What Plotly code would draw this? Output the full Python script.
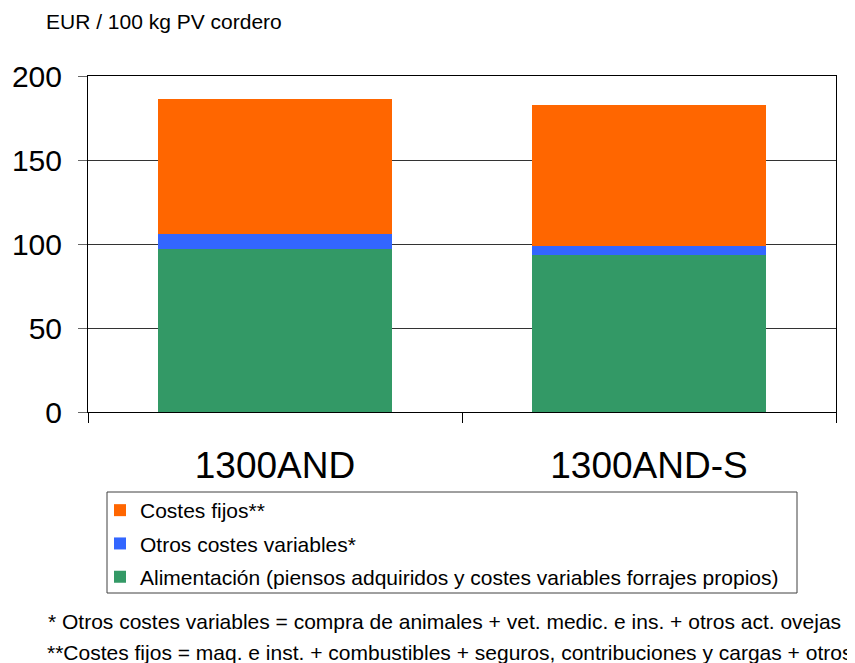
import plotly.graph_objects as go

categories = ["1300AND", "1300AND-S"]
alimentacion = [97.0, 93.5]
otros_variables = [8.9, 5.5]
costes_fijos = [80.3, 83.6]

series_names = [
    "Alimentación (piensos adquiridos y costes variables forrajes propios)",
    "Otros costes variables*",
    "Costes fijos**",
]
legend_ranks = [3, 2, 1]
colors = ["#339966", "#3366FF", "#FF6600"]
y_ticks = [0, 50, 100, 150, 200]

# page body has an 8px margin, so lay out in a shifted frame
OFF = 8
W, H = 855 - OFF, 663 - OFF
L, R, T, B = 88 - OFF, 836 - OFF, 76 - OFF, 412 - OFF  # plot area pixels
pw, ph = R - L, B - T

def px(x):
    return (x - OFF - L) / pw

def py(y):
    return (B - (y - OFF)) / ph

FONT = "Liberation Sans, Arial, sans-serif"

fig = go.Figure()
for name, vals, col, rk in zip(series_names, [alimentacion, otros_variables, costes_fijos], colors, legend_ranks):
    fig.add_trace(go.Bar(x=categories, y=vals, name=name, marker=dict(color=col, line=dict(width=0)),
                         legendrank=rk, legendgroup="g%d" % rk))

fig.update_layout(
    width=W, height=H,
    margin=dict(l=L, r=W - R, t=T, b=H - B, pad=0, autoexpand=False),
    barmode="stack",
    bargap=0.374,
    plot_bgcolor="white",
    paper_bgcolor="white",
    font=dict(family=FONT, color="black"),
    showlegend=True,
    legend=dict(
        x=px(100), y=py(490), xanchor="left", yanchor="top",
        traceorder="grouped", tracegroupgap=3,
        borderwidth=0, bgcolor="rgba(0,0,0,0)",
        font=dict(size=21, family=FONT, color="black"),
    ),
    xaxis=dict(
        showline=True, linecolor="black", linewidth=1, mirror=True,
        ticks="outside", tickson="boundaries", ticklen=10, tickcolor="black",
        tickfont=dict(size=37, family=FONT, color="black"),
        ticklabelstandoff=21, automargin=False,
    ),
    yaxis=dict(
        range=[0, 200], tickvals=y_ticks, showgrid=True, gridcolor="#333333", gridwidth=1,
        showline=True, linecolor="black", linewidth=1, mirror=True,
        ticks="outside", ticklen=9, tickcolor="#666666",
        tickfont=dict(size=30, family=FONT, color="black"),
        ticklabelstandoff=10, zeroline=False, automargin=False,
    ),
    shapes=[
        dict(type="rect", xref="paper", yref="paper", x0=px(107), x1=px(797), y0=py(492), y1=py(593),
             line=dict(color="#404040", width=1), fillcolor="rgba(0,0,0,0)", layer="below"),
    ],
    annotations=[
        dict(text="EUR / 100 kg PV cordero", xref="paper", yref="paper", x=px(44), y=py(22),
             xanchor="left", yanchor="middle", showarrow=False, font=dict(size=21, family=FONT)),
        dict(text="* Otros costes variables = compra de animales + vet. medic. e ins. + otros act. ovejas",
             xref="paper", yref="paper", x=px(46), y=py(621), xanchor="left", yanchor="middle",
             showarrow=False, font=dict(size=21, family=FONT)),
        dict(text="**Costes fijos = maq. e inst. + combustibles + seguros, contribuciones y cargas + otros",
             xref="paper", yref="paper", x=px(45), y=py(652), xanchor="left", yanchor="middle",
             showarrow=False, font=dict(size=21, family=FONT)),
    ],
)

fig.write_html("out.html")
